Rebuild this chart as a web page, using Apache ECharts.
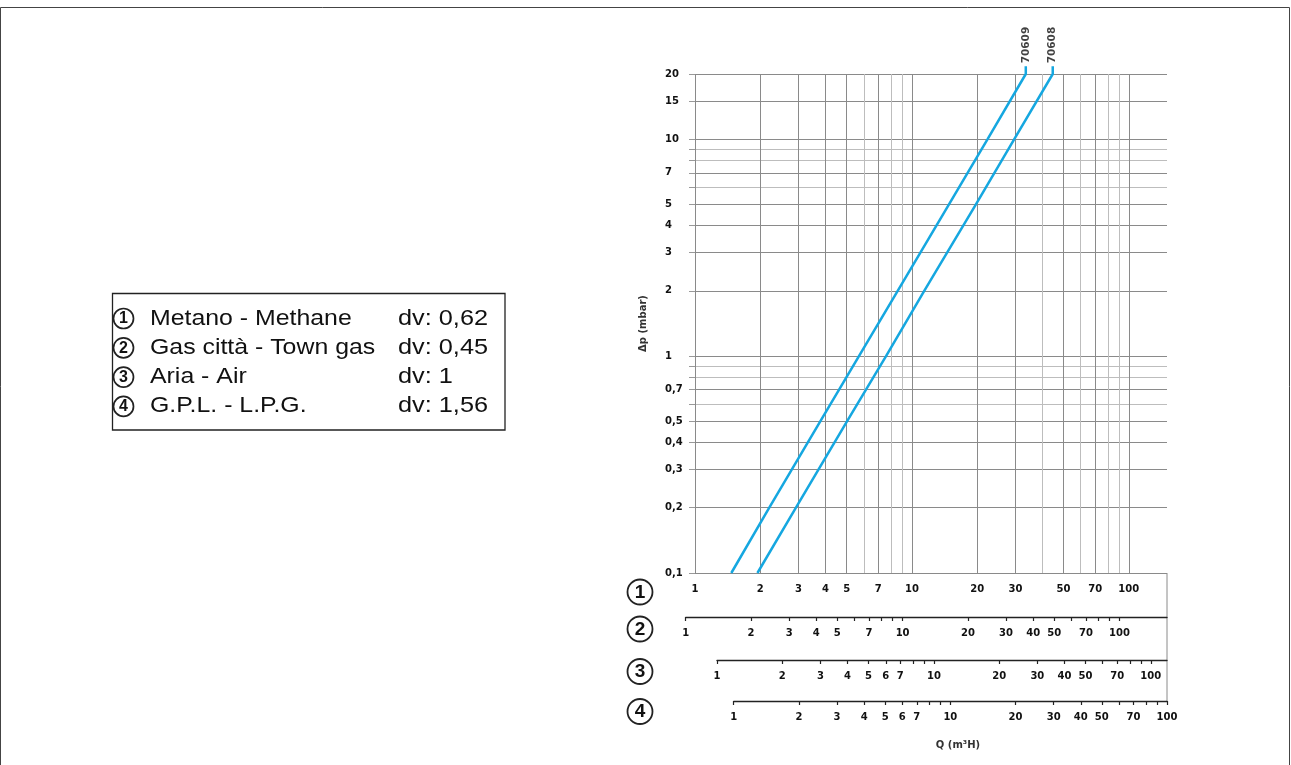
<!DOCTYPE html>
<html><head><meta charset="utf-8">
<script src="https://cdn.jsdelivr.net/npm/echarts@6/dist/echarts.min.js"></script>
<style>html,body{margin:0;padding:0;background:#fff}#c{width:1291px;height:765px}</style>
</head><body><div id="c"></div><script>
// ---- data ----
const seriesNames = ['70609', '70608'];
// [Q (m3/h, methane scale), Δp (mbar)]  — last point is the short stub above the frame
const line70609 = [[1.47,0.1],[2.2,0.2],[3.78,0.5],[5.7,1],[8.6,2],[14.8,5],[22.3,10],[33.5,20],[33.5,21.7]];
const line70608 = [[1.94,0.1],[2.92,0.2],[5.02,0.5],[7.6,1],[11.4,2],[19.7,5],[29.6,10],[44.6,20],[44.6,21.7]];

const yGridValues = [0.1,0.2,0.3,0.4,0.5,0.6,0.7,0.8,0.9,1,2,3,4,5,6,7,8,9,10,15,20];
const yLabelValues = [0.1,0.2,0.3,0.4,0.5,0.7,1,2,3,4,5,7,10,15,20];
const xGridValues = [1,2,3,4,5,6,7,8,9,10,20,30,40,50,60,70,80,90,100];
const xLabels1 = [1,2,3,4,5,7,10,20,30,50,70,100];
const xLabels2 = [1,2,3,4,5,7,10,20,30,40,50,70,100];
const xLabels3 = [1,2,3,4,5,6,7,10,20,30,40,50,70,100];
const xLabels4 = [1,2,3,4,5,6,7,10,20,30,40,50,70,100];
const axisMax = [150, 165.6, 118.8, 100];
const axisMin = [1, 1, 1, 1];

const gasIds = ['1','2','3','4'];
const gasNames = ['Metano - Methane','Gas città - Town gas','Aria - Air','G.P.L. - L.P.G.'];
const gasDv = ['dv: 0,62','dv: 0,45','dv: 1','dv: 1,56'];
const yTitle = 'Δp (mbar)';
const xTitle = 'Q (m³H)';

// ---- styling ----
const FONT = '"Liberation Sans", Arial, Helvetica, sans-serif';
const BFONT = '"DejaVu Sans", Verdana, sans-serif';
const DARK = '#8a8a8a', LIGHT = '#bdbdbd';
const LINE = '#15a7e0';
const fmt = v => String(Math.round(v * 100) / 100).replace('.', ',');
const yColors = yGridValues.map(v => yLabelValues.includes(v) ? DARK : LIGHT);
const xColors = xGridValues.map(v => xLabels1.includes(v) ? DARK : LIGHT);
const lbl = {fontFamily: BFONT, fontSize: 10, fontWeight: 'bold', color: '#111'};

const gridDefs = [
  {left: 695, top: 74, width: 472, height: 499},
  {left: 685.7, top: 612, width: 481.3, height: 5},
  {left: 717, top: 655, width: 450, height: 5},
  {left: 733.7, top: 696, width: 433.3, height: 5}
];
const subLabels = [null, xLabels2, xLabels3, xLabels4];

const xAxes = [{
  type: 'log', logBase: 10, gridIndex: 0, min: axisMin[0], max: axisMax[0],
  axisLine: {show: false},
  axisTick: {show: false, customValues: xGridValues},
  axisLabel: Object.assign({customValues: xLabels1, margin: 11, formatter: fmt}, lbl),
  splitLine: {show: true, lineStyle: {color: xColors, width: 1}}
}];
for (let i = 1; i < 4; i++) {
  xAxes.push({
    type: 'log', logBase: 10, gridIndex: i, min: axisMin[i], max: axisMax[i], position: 'bottom',
    axisLine: {show: true, lineStyle: {color: '#222', width: 1.3}},
    axisTick: {show: true, inside: false, length: 4, customValues: xGridValues, lineStyle: {color: '#222', width: 1.2}},
    axisLabel: Object.assign({customValues: subLabels[i], margin: 11, formatter: fmt}, lbl),
    splitLine: {show: false}
  });
}
const yAxes = [{
  type: 'log', logBase: 10, gridIndex: 0, min: 0.1, max: 20,
  axisLine: {show: false},
  axisTick: {show: true, length: 6, customValues: yGridValues, lineStyle: {color: '#999'}},
  axisLabel: Object.assign({customValues: yLabelValues, formatter: fmt, align: 'left', margin: 30}, lbl),
  splitLine: {show: true, lineStyle: {color: yColors, width: 1}},
  name: yTitle, nameLocation: 'middle', nameRotate: 90, nameGap: 47,
  nameTextStyle: {fontFamily: BFONT, fontSize: 10, fontWeight: 'bold', color: '#333'}
}];
for (let i = 1; i < 4; i++) yAxes.push({type: 'value', gridIndex: i, show: false});

const graphic = [];
graphic.push({type: 'rect', shape: {x: 0.5, y: 7.5, width: 1289, height: 800}, style: {fill: 'none', stroke: '#444', lineWidth: 1}, silent: true});
// right frame of the chart extended down to the last scale
graphic.push({type: 'line', shape: {x1: 1167, y1: 573, x2: 1167, y2: 701}, style: {stroke: '#8a8a8a', lineWidth: 1}, silent: true});
// legend box
graphic.push({type: 'rect', shape: {x: 112.5, y: 293.5, width: 392.5, height: 136.5}, style: {fill: '#fff', stroke: '#222', lineWidth: 1.3}, silent: true});
gasIds.forEach((id, i) => {
  const cy = 318.5 + 29.3 * i;
  graphic.push({type: 'circle', shape: {cx: 123.5, cy: cy, r: 10}, style: {fill: 'none', stroke: '#222', lineWidth: 1.7}, silent: true});
  graphic.push({type: 'text', x: 123.5, y: cy + 0.5, style: {text: id, font: 'bold 16px ' + FONT, fill: '#111', textAlign: 'center', textVerticalAlign: 'middle'}, silent: true});
  graphic.push({type: 'text', x: 150, y: cy, scaleX: 1.13, style: {text: gasNames[i], font: '22px ' + FONT, fill: '#111', textAlign: 'left', textVerticalAlign: 'middle'}, silent: true});
  graphic.push({type: 'text', x: 398, y: cy, scaleX: 1.15, style: {text: gasDv[i], font: '22px ' + FONT, fill: '#111', textAlign: 'left', textVerticalAlign: 'middle'}, silent: true});
});
// scale markers next to the four Q scales
const markerY = [592, 629, 671.5, 711.5];
gasIds.forEach((id, i) => {
  graphic.push({type: 'circle', shape: {cx: 640, cy: markerY[i], r: 12.5}, style: {fill: 'none', stroke: '#222', lineWidth: 1.8}, silent: true});
  graphic.push({type: 'text', x: 640, y: markerY[i] + 0.5, style: {text: id, font: 'bold 19px ' + FONT, fill: '#111', textAlign: 'center', textVerticalAlign: 'middle'}, silent: true});
});
graphic.push({type: 'text', x: 958, y: 745, style: {text: xTitle, font: 'bold 10px ' + BFONT, fill: '#333', textAlign: 'center', textVerticalAlign: 'middle'}, silent: true});

function curve(name, data) {
  return {
    type: 'line', name: name, xAxisIndex: 0, yAxisIndex: 0, data: data,
    symbol: 'none', showSymbol: false, clip: false, smooth: false,
    lineStyle: {color: LINE, width: 2.5}, silent: true, z: 5
  };
}
function tag(name, data) {
  const top = data[data.length - 1];
  return {
    type: 'scatter', xAxisIndex: 0, yAxisIndex: 0, data: [top], symbolSize: 0, clip: false, silent: true,
    label: {show: true, formatter: name, position: 'top', distance: 3, rotate: 90, align: 'left', verticalAlign: 'middle',
      fontFamily: BFONT, fontSize: 10.5, fontWeight: 'bold', color: '#111'}
  };
}

const chart = echarts.init(document.getElementById('c'), null, {renderer: 'canvas'});
chart.setOption({
  animation: false,
  backgroundColor: '#fff',
  grid: gridDefs,
  xAxis: xAxes,
  yAxis: yAxes,
  graphic: graphic,
  series: [curve(seriesNames[0], line70609), curve(seriesNames[1], line70608),
           tag(seriesNames[0], line70609), tag(seriesNames[1], line70608)]
});
</script></body></html>
